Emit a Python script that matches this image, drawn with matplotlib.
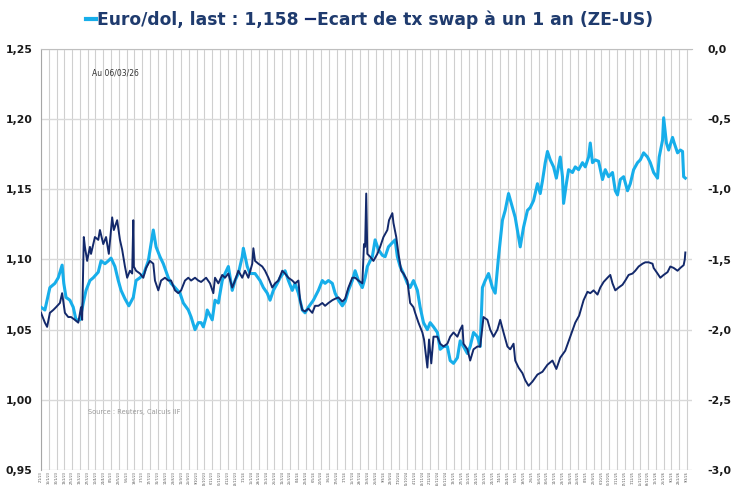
import matplotlib
matplotlib.use("Agg")
import matplotlib.pyplot as plt
from matplotlib.lines import Line2D
import pandas as pd

# EUR/USD (left axis)
eur_usd = [
    ("2023-01-02", 1.066), ("2023-01-09", 1.064), ("2023-01-18", 1.080), ("2023-01-27", 1.083),
    ("2023-02-02", 1.087), ("2023-02-09", 1.096), ("2023-02-12", 1.083), ("2023-02-16", 1.073),
    ("2023-02-23", 1.071), ("2023-03-01", 1.066), ("2023-03-06", 1.057), ("2023-03-13", 1.057),
    ("2023-03-19", 1.069), ("2023-03-24", 1.078), ("2023-03-31", 1.085), ("2023-04-06", 1.087),
    ("2023-04-15", 1.091), ("2023-04-20", 1.099), ("2023-04-27", 1.097), ("2023-05-03", 1.099),
    ("2023-05-08", 1.101), ("2023-05-15", 1.095), ("2023-05-21", 1.085), ("2023-05-26", 1.078),
    ("2023-06-02", 1.072), ("2023-06-09", 1.067), ("2023-06-17", 1.073), ("2023-06-22", 1.085),
    ("2023-06-29", 1.087), ("2023-07-06", 1.090), ("2023-07-14", 1.099), ("2023-07-23", 1.121),
    ("2023-07-28", 1.109), ("2023-08-04", 1.102), ("2023-08-10", 1.097), ("2023-08-19", 1.087),
    ("2023-08-24", 1.083), ("2023-08-31", 1.080), ("2023-09-09", 1.076), ("2023-09-15", 1.069),
    ("2023-09-24", 1.064), ("2023-09-29", 1.059), ("2023-10-06", 1.050), ("2023-10-12", 1.055),
    ("2023-10-17", 1.055), ("2023-10-21", 1.052), ("2023-10-26", 1.059), ("2023-10-28", 1.064),
    ("2023-11-06", 1.057), ("2023-11-11", 1.071), ("2023-11-17", 1.069), ("2023-11-24", 1.085),
    ("2023-11-29", 1.090), ("2023-12-05", 1.095), ("2023-12-12", 1.078), ("2023-12-17", 1.085),
    ("2023-12-23", 1.090), ("2023-12-30", 1.102), ("2024-01-01", 1.108), ("2024-01-08", 1.095),
    ("2024-01-13", 1.090), ("2024-01-22", 1.090), ("2024-01-31", 1.085), ("2024-02-06", 1.080),
    ("2024-02-13", 1.076), ("2024-02-18", 1.071), ("2024-02-24", 1.078), ("2024-03-02", 1.083),
    ("2024-03-07", 1.087), ("2024-03-16", 1.092), ("2024-03-22", 1.085), ("2024-03-29", 1.078),
    ("2024-04-03", 1.083), ("2024-04-09", 1.076), ("2024-04-16", 1.064), ("2024-04-21", 1.062),
    ("2024-04-27", 1.066), ("2024-05-06", 1.071), ("2024-05-15", 1.078), ("2024-05-22", 1.085),
    ("2024-05-27", 1.083), ("2024-06-02", 1.085), ("2024-06-09", 1.083), ("2024-06-14", 1.076),
    ("2024-06-20", 1.071), ("2024-06-27", 1.067), ("2024-07-02", 1.070), ("2024-07-08", 1.078),
    ("2024-07-15", 1.085), ("2024-07-20", 1.092), ("2024-07-26", 1.085), ("2024-08-02", 1.080),
    ("2024-08-07", 1.087), ("2024-08-11", 1.095), ("2024-08-20", 1.102), ("2024-08-25", 1.114),
    ("2024-08-31", 1.107), ("2024-09-07", 1.103), ("2024-09-12", 1.102), ("2024-09-18", 1.109),
    ("2024-09-25", 1.112), ("2024-09-30", 1.114), ("2024-10-04", 1.102), ("2024-10-09", 1.095),
    ("2024-10-15", 1.090), ("2024-10-22", 1.083), ("2024-10-27", 1.080), ("2024-11-02", 1.085),
    ("2024-11-09", 1.078), ("2024-11-14", 1.066), ("2024-11-20", 1.055), ("2024-11-27", 1.050),
    ("2024-12-02", 1.055), ("2024-12-08", 1.052), ("2024-12-15", 1.048), ("2024-12-20", 1.036),
    ("2024-12-26", 1.038), ("2025-01-02", 1.038), ("2025-01-07", 1.028), ("2025-01-13", 1.026),
    ("2025-01-20", 1.030), ("2025-01-25", 1.042), ("2025-01-31", 1.038), ("2025-02-07", 1.033),
    ("2025-02-12", 1.038), ("2025-02-18", 1.048), ("2025-02-25", 1.045), ("2025-03-02", 1.038),
    ("2025-03-06", 1.080), ("2025-03-11", 1.085), ("2025-03-17", 1.090), ("2025-03-24", 1.080),
    ("2025-03-29", 1.076), ("2025-04-04", 1.102), ("2025-04-11", 1.128), ("2025-04-16", 1.135),
    ("2025-04-22", 1.147), ("2025-04-29", 1.137), ("2025-05-04", 1.130), ("2025-05-13", 1.109),
    ("2025-05-19", 1.123), ("2025-05-26", 1.135), ("2025-05-31", 1.137), ("2025-06-06", 1.142),
    ("2025-06-13", 1.154), ("2025-06-18", 1.147), ("2025-06-22", 1.156), ("2025-06-27", 1.169),
    ("2025-07-01", 1.177), ("2025-07-06", 1.171), ("2025-07-12", 1.166), ("2025-07-17", 1.158),
    ("2025-07-24", 1.173), ("2025-07-28", 1.159), ("2025-07-30", 1.140), ("2025-08-04", 1.154),
    ("2025-08-08", 1.164), ("2025-08-15", 1.162), ("2025-08-20", 1.166), ("2025-08-26", 1.164),
    ("2025-09-02", 1.169), ("2025-09-07", 1.166), ("2025-09-13", 1.173), ("2025-09-16", 1.183),
    ("2025-09-20", 1.169), ("2025-09-25", 1.171), ("2025-10-01", 1.170), ("2025-10-08", 1.157),
    ("2025-10-13", 1.164), ("2025-10-19", 1.159), ("2025-10-26", 1.162), ("2025-10-31", 1.149),
    ("2025-11-04", 1.146), ("2025-11-09", 1.157), ("2025-11-15", 1.159), ("2025-11-22", 1.149),
    ("2025-11-27", 1.154), ("2025-12-03", 1.164), ("2025-12-10", 1.169), ("2025-12-15", 1.171),
    ("2025-12-21", 1.176), ("2025-12-28", 1.173), ("2026-01-02", 1.169), ("2026-01-08", 1.162),
    ("2026-01-15", 1.158), ("2026-01-18", 1.173), ("2026-01-24", 1.185), ("2026-01-26", 1.201),
    ("2026-01-31", 1.183), ("2026-02-04", 1.178), ("2026-02-11", 1.187), ("2026-02-14", 1.183),
    ("2026-02-20", 1.176), ("2026-02-25", 1.178), ("2026-03-01", 1.177), ("2026-03-03", 1.159),
    ("2026-03-06", 1.158),
]

# 1-year swap rate spread euro area - US (right axis, pp)
swap_spread = [
    ("2023-01-02", -1.88), ("2023-01-09", -1.95), ("2023-01-13", -1.98), ("2023-01-18", -1.88),
    ("2023-01-24", -1.86), ("2023-01-29", -1.84), ("2023-02-05", -1.81), ("2023-02-09", -1.74),
    ("2023-02-14", -1.88), ("2023-02-20", -1.91), ("2023-02-25", -1.91), ("2023-03-04", -1.93),
    ("2023-03-10", -1.95), ("2023-03-15", -1.84), ("2023-03-17", -1.93), ("2023-03-20", -1.34),
    ("2023-03-22", -1.41), ("2023-03-26", -1.51), ("2023-03-31", -1.41), ("2023-04-02", -1.46),
    ("2023-04-09", -1.34), ("2023-04-15", -1.36), ("2023-04-18", -1.29), ("2023-04-24", -1.39),
    ("2023-04-29", -1.34), ("2023-05-04", -1.46), ("2023-05-10", -1.20), ("2023-05-13", -1.29),
    ("2023-05-19", -1.22), ("2023-05-24", -1.36), ("2023-05-28", -1.43), ("2023-06-02", -1.55),
    ("2023-06-06", -1.63), ("2023-06-11", -1.58), ("2023-06-15", -1.60), ("2023-06-17", -1.22),
    ("2023-06-18", -1.55), ("2023-06-22", -1.58), ("2023-06-29", -1.60), ("2023-07-05", -1.63),
    ("2023-07-10", -1.56), ("2023-07-17", -1.51), ("2023-07-23", -1.53), ("2023-07-26", -1.65),
    ("2023-08-01", -1.72), ("2023-08-06", -1.65), ("2023-08-13", -1.63), ("2023-08-19", -1.65),
    ("2023-08-24", -1.65), ("2023-08-31", -1.72), ("2023-09-06", -1.74), ("2023-09-11", -1.72),
    ("2023-09-18", -1.65), ("2023-09-24", -1.63), ("2023-09-29", -1.65), ("2023-10-06", -1.63),
    ("2023-10-12", -1.65), ("2023-10-17", -1.66), ("2023-10-26", -1.63), ("2023-11-02", -1.67),
    ("2023-11-08", -1.74), ("2023-11-11", -1.63), ("2023-11-17", -1.67), ("2023-11-24", -1.61),
    ("2023-11-29", -1.63), ("2023-12-05", -1.60), ("2023-12-12", -1.70), ("2023-12-17", -1.65),
    ("2023-12-23", -1.58), ("2023-12-30", -1.63), ("2024-01-04", -1.58), ("2024-01-10", -1.63),
    ("2024-01-17", -1.53), ("2024-01-19", -1.42), ("2024-01-22", -1.51), ("2024-01-28", -1.53),
    ("2024-02-04", -1.55), ("2024-02-09", -1.58), ("2024-02-15", -1.63), ("2024-02-22", -1.70),
    ("2024-02-27", -1.67), ("2024-03-04", -1.65), ("2024-03-11", -1.58), ("2024-03-16", -1.60),
    ("2024-03-22", -1.63), ("2024-03-29", -1.65), ("2024-04-03", -1.67), ("2024-04-09", -1.65),
    ("2024-04-12", -1.79), ("2024-04-16", -1.86), ("2024-04-21", -1.87), ("2024-04-27", -1.85),
    ("2024-05-04", -1.88), ("2024-05-09", -1.83), ("2024-05-15", -1.83), ("2024-05-22", -1.81),
    ("2024-05-27", -1.83), ("2024-06-02", -1.81), ("2024-06-09", -1.79), ("2024-06-14", -1.78),
    ("2024-06-20", -1.77), ("2024-06-27", -1.80), ("2024-07-02", -1.78), ("2024-07-08", -1.70),
    ("2024-07-15", -1.63), ("2024-07-20", -1.63), ("2024-07-26", -1.65), ("2024-08-02", -1.67),
    ("2024-08-05", -1.39), ("2024-08-07", -1.41), ("2024-08-09", -1.03), ("2024-08-11", -1.46),
    ("2024-08-16", -1.48), ("2024-08-22", -1.51), ("2024-08-29", -1.46), ("2024-09-03", -1.41),
    ("2024-09-09", -1.34), ("2024-09-16", -1.29), ("2024-09-19", -1.22), ("2024-09-25", -1.17),
    ("2024-09-27", -1.24), ("2024-10-02", -1.34), ("2024-10-06", -1.46), ("2024-10-11", -1.58),
    ("2024-10-15", -1.60), ("2024-10-22", -1.65), ("2024-10-27", -1.81), ("2024-11-02", -1.84),
    ("2024-11-05", -1.88), ("2024-11-11", -1.95), ("2024-11-18", -2.02), ("2024-11-21", -2.07),
    ("2024-11-27", -2.27), ("2024-11-30", -2.07), ("2024-12-04", -2.24), ("2024-12-08", -2.05),
    ("2024-12-15", -2.05), ("2024-12-20", -2.10), ("2024-12-26", -2.12), ("2025-01-02", -2.10),
    ("2025-01-07", -2.05), ("2025-01-13", -2.02), ("2025-01-20", -2.05), ("2025-01-25", -2.00),
    ("2025-01-29", -1.97), ("2025-01-31", -2.10), ("2025-02-07", -2.14), ("2025-02-12", -2.22),
    ("2025-02-18", -2.14), ("2025-02-25", -2.12), ("2025-03-02", -2.12), ("2025-03-08", -1.91),
    ("2025-03-15", -1.93), ("2025-03-20", -2.00), ("2025-03-26", -2.05), ("2025-04-02", -2.00),
    ("2025-04-07", -1.93), ("2025-04-13", -2.02), ("2025-04-20", -2.12), ("2025-04-25", -2.14),
    ("2025-05-01", -2.10), ("2025-05-04", -2.22), ("2025-05-10", -2.27), ("2025-05-17", -2.31),
    ("2025-05-22", -2.36), ("2025-05-28", -2.40), ("2025-06-04", -2.37), ("2025-06-13", -2.32),
    ("2025-06-22", -2.30), ("2025-07-01", -2.25), ("2025-07-10", -2.22), ("2025-07-17", -2.28),
    ("2025-07-24", -2.20), ("2025-08-02", -2.15), ("2025-08-11", -2.05), ("2025-08-20", -1.95),
    ("2025-08-27", -1.90), ("2025-09-04", -1.79), ("2025-09-11", -1.73), ("2025-09-16", -1.74),
    ("2025-09-22", -1.72), ("2025-09-29", -1.75), ("2025-10-04", -1.70), ("2025-10-10", -1.66),
    ("2025-10-17", -1.63), ("2025-10-22", -1.61), ("2025-10-26", -1.67), ("2025-10-31", -1.72),
    ("2025-11-06", -1.70), ("2025-11-13", -1.68), ("2025-11-18", -1.65), ("2025-11-24", -1.61),
    ("2025-12-01", -1.60), ("2025-12-06", -1.58), ("2025-12-12", -1.55), ("2025-12-19", -1.53),
    ("2025-12-24", -1.52), ("2025-12-30", -1.52), ("2026-01-06", -1.53), ("2026-01-08", -1.56),
    ("2026-01-15", -1.60), ("2026-01-20", -1.63), ("2026-01-26", -1.61), ("2026-02-02", -1.59),
    ("2026-02-07", -1.55), ("2026-02-13", -1.56), ("2026-02-20", -1.58), ("2026-02-25", -1.56),
    ("2026-03-03", -1.54), ("2026-03-05", -1.50), ("2026-03-06", -1.45),
]

left_ticks = [0.95, 1.00, 1.05, 1.10, 1.15, 1.20, 1.25]
right_ticks = [-3.0, -2.5, -2.0, -1.5, -1.0, -0.5, 0.0]
legend_labels = ["Euro/dol, last : 1,158", "Ecart de tx swap à un 1 an (ZE-US)"]
note_date = "Au 06/03/26"
note_source = "Source : Reuters, Calculs IIF"

LIGHT = "#17aeea"
NAVY = "#13296b"
TEXT = "#1f3b6e"

eur = pd.DataFrame(eur_usd, columns=["date", "value"])
eur["date"] = pd.to_datetime(eur["date"])
swp = pd.DataFrame(swap_spread, columns=["date", "value"])
swp["date"] = pd.to_datetime(swp["date"])

W, H = 732, 486
fig = plt.figure(figsize=(W / 100, H / 100), dpi=100)
x0, x1, y0, y1 = 41, 692, 49, 470
ax = fig.add_axes([x0 / W, 1 - y1 / H, (x1 - x0) / W, (y1 - y0) / H])
ax2 = ax.twinx()

ax.plot(eur["date"], eur["value"], color=LIGHT, lw=2.2, solid_joinstyle="round", zorder=3)
ax2.plot(swp["date"], swp["value"], color=NAVY, lw=1.4, zorder=4)

ax.set_ylim(0.95, 1.25)
ax2.set_ylim(-3.0, 0.0)
xticks = pd.date_range("2023-01-02", "2026-03-16", freq="14D")
ax.set_xlim(pd.Timestamp("2023-01-02"), pd.Timestamp("2026-03-18"))

ax.set_yticks(left_ticks)
ax.set_yticklabels([f"{v:.2f}".replace(".", ",") for v in left_ticks],
                   fontsize=7.8, fontweight="bold", color="#1a1a1a")
ax2.set_yticks(right_ticks)
ax2.set_yticklabels([f"{v:.1f}".replace(".", ",") for v in right_ticks],
                    fontsize=7.8, fontweight="bold", color="#1a1a1a")
ax.tick_params(axis="y", length=0, pad=6)
ax2.tick_params(axis="y", length=0, pad=11)

ax.set_xticks(xticks)
ax.set_xticklabels([f"{d.day}/{d.month}/{d.strftime('%y')}" for d in xticks],
                   rotation=90, fontsize=2.4, color="#555555")
ax.tick_params(axis="x", length=0, pad=1.0)

ax.set_axisbelow(True)
ax.grid(axis="y", color="#d9d9d9", lw=1.0)
ax.grid(axis="x", color="#cfcfcf", lw=0.8)

for a in (ax, ax2):
    for s in a.spines.values():
        s.set_visible(False)
ax.spines["left"].set_visible(True)
ax.spines["left"].set_color("#a6a6a6")
ax.spines["top"].set_visible(True)
ax.spines["top"].set_color("#bfbfbf")

ax.text(0.078, 0.938, note_date, transform=ax.transAxes, fontsize=5.5, color="#333333")
ax.text(0.072, 0.133, note_source, transform=ax.transAxes, fontsize=4.8, color="#9a9a9a")

handles = [Line2D([0], [0], color=LIGHT, lw=3), Line2D([0], [0], color=NAVY, lw=1.6)]
fig.legend(handles, legend_labels, loc="center", bbox_to_anchor=(0.505, 1 - 20 / H),
           ncol=2, frameon=False, handlelength=0.55, handletextpad=0.1,
           columnspacing=0.4, prop={"size": 12.3, "weight": "bold"}, labelcolor=TEXT)

fig.savefig("out.png", dpi=100)
